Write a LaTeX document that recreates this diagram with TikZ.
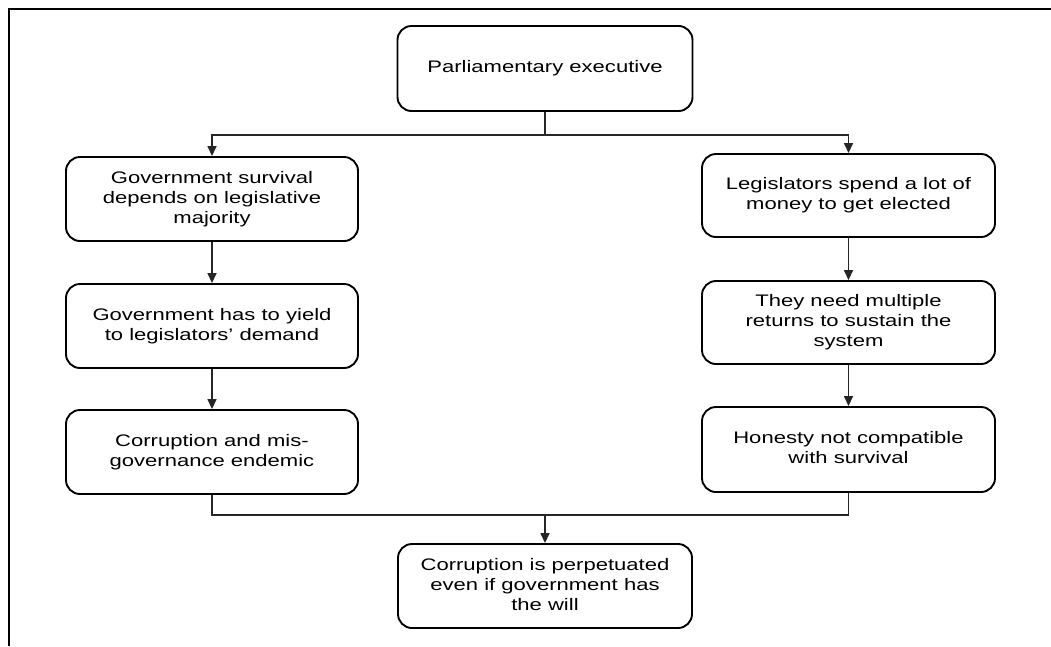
\documentclass[tikz,border=0pt]{standalone}
\usepackage{fontspec}
\setmainfont{Liberation Sans}
\usepackage{graphicx}
\usetikzlibrary{arrows.meta}
\newcommand{\ntext}[1]{\scalebox{1.32}[1]{\begin{tabular}{@{}c@{}}#1\end{tabular}}}
\tikzset{
  flowbox/.style={draw=black, line width=1.9pt, rounded corners=14pt, align=center,
    text=black, font=\fontsize{16.7}{20}\selectfont, inner sep=0pt},
  conn/.style={draw=black!85, line width=1.5pt},
  arr/.style={conn, -{Triangle[length=10pt,width=9pt]}},
  frameline/.style={draw=black, line width=1.5pt}
}
\begin{document}
\begin{tikzpicture}[x=1pt,y=-1pt]
\useasboundingbox (0,0) rectangle (1051,646);
\draw[frameline] (9,646) -- (9,9) -- (1051,9);

\node[flowbox, minimum width=295pt, minimum height=85pt] (pe) at (545,68.5) {\ntext{Parliamentary executive}};

\node[flowbox, minimum width=292pt, minimum height=84pt] (l1) at (212,199) {\ntext{Government survival\\depends on legislative\\majority}};
\node[flowbox, minimum width=292pt, minimum height=84pt] (l2) at (212,326) {\ntext{Government has to yield\\to legislators’ demand}};
\node[flowbox, minimum width=292pt, minimum height=84pt] (l3) at (212,452) {\ntext{Corruption and mis-\\governance endemic}};

\node[flowbox, minimum width=293pt, minimum height=83pt] (r1) at (848.5,195.5) {\ntext{Legislators spend a lot of\\money to get elected}};
\node[flowbox, minimum width=293pt, minimum height=83pt] (r2) at (848.5,322.5) {\ntext{They need multiple\\returns to sustain the\\system}};
\node[flowbox, minimum width=293pt, minimum height=85pt] (r3) at (848.5,449.5) {\ntext{Honesty not compatible\\with survival}};

\node[flowbox, minimum width=294pt, minimum height=84pt] (bot) at (545,586) {\ntext{Corruption is perpetuated\\even if government has\\the will}};

\coordinate (top) at (545,135);
\coordinate (mid) at (545,515);

\draw[conn] (pe.south) -- (top);
\draw[arr] (top) -| (l1.north);
\draw[arr] (top) -| (r1.north);

\draw[arr] (l1) -- (l2);
\draw[arr] (l2) -- (l3);
\draw[arr] (r1) -- (r2);
\draw[arr] (r2) -- (r3);

\draw[conn] (l3.south) |- (mid);
\draw[conn] (r3.south) |- (mid);
\draw[arr] (mid) -- (bot.north);
\end{tikzpicture}
\end{document}
